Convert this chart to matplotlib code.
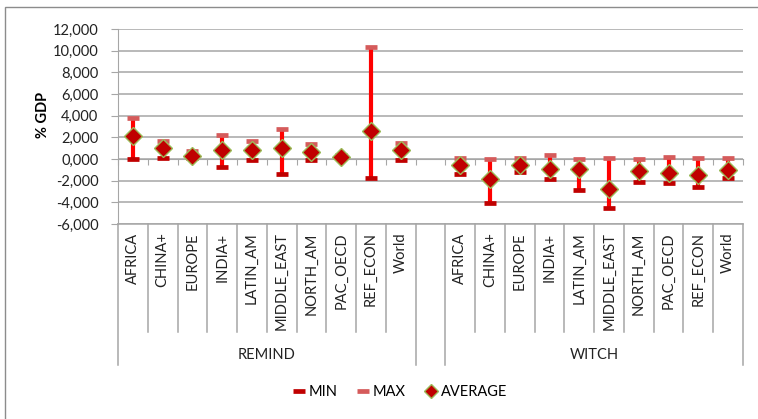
import matplotlib

matplotlib.use("Agg")
import matplotlib.pyplot as plt
import numpy as np
from matplotlib.lines import Line2D
from matplotlib.patches import Rectangle
from matplotlib.ticker import FuncFormatter

plt.rcParams["font.family"] = ["Lato", "DejaVu Sans"]

regions = ["AFRICA", "CHINA+", "EUROPE", "INDIA+", "LATIN_AM", "MIDDLE_EAST",
           "NORTH_AM", "PAC_OECD", "REF_ECON", "World"]
models = ["REMIND", "WITCH"]

# % GDP
remind_min = [0.0, 0.05, 0.05, -0.74, -0.12, -1.35, -0.12, 0.05, -1.78, -0.05]
remind_max = [3.75, 1.65, 0.7, 2.25, 1.65, 2.78, 1.38, 0.35, 10.32, 1.45]
remind_avg = [2.09, 1.05, 0.31, 0.8, 0.8, 1.05, 0.68, 0.18, 2.55, 0.86]

witch_min = [-1.35, -4.1, -1.16, -1.87, -2.85, -4.55, -2.1, -2.2, -2.6, -1.72]
witch_max = [0.1, 0.0, 0.05, 0.35, 0.0, 0.05, 0.0, 0.2, 0.05, 0.05]
witch_avg = [-0.58, -1.8, -0.58, -0.95, -0.95, -2.78, -1.08, -1.27, -1.5, -1.0]

RED = "#FF0000"
MIN_C = "#C00000"
MAX_C = "#D55B5B"
AVG_EDGE = "#9BBB59"
GRID = "#A6A6A6"

fig = plt.figure(figsize=(7.58, 4.19), dpi=100)
W, H = 758, 419
ax = fig.add_axes([118 / W, 1 - 224 / H, (743 - 118) / W, (224 - 29) / H])

n = len(regions)
x_remind = np.arange(n)
x_witch = np.arange(n) + n + 1
xs = np.concatenate([x_remind, x_witch])
mins = np.array(remind_min + witch_min)
maxs = np.array(remind_max + witch_max)
avgs = np.array(remind_avg + witch_avg)

ax.set_xlim(-0.5, 2 * n + 0.5)
ax.set_ylim(-6, 12)
ax.set_yticks(np.arange(-6, 12.1, 2))
ax.yaxis.set_major_formatter(FuncFormatter(lambda v, p: f"{v:.3f}".replace(".", ",")))
ax.grid(axis="y", color=GRID, lw=1.1)
ax.set_axisbelow(True)

for s in ["top", "right"]:
    ax.spines[s].set_visible(False)
ax.spines["left"].set_color(GRID)
ax.spines["bottom"].set_position(("data", 0))
ax.spines["bottom"].set_color(GRID)
ax.set_xticks(np.arange(-0.5, 2 * n + 1, 1))
ax.tick_params(axis="x", direction="out", length=4, color=GRID, labelbottom=False)
ax.tick_params(axis="y", length=5, color=GRID, pad=9, labelsize=10.5, labelcolor="#222222")

# high-low lines with min / max dashes and the average diamond
ax.vlines(xs, mins, maxs, color=RED, lw=3.0, zorder=3)
ax.plot(xs, mins, ls="none", marker="_", ms=9, mew=3.4, color=MIN_C, zorder=4)
ax.plot(xs, maxs, ls="none", marker="_", ms=9, mew=3.4, color=MAX_C, zorder=4)
ax.plot(xs, avgs, ls="none", marker="D", ms=9.5, mfc=MIN_C, mec=AVG_EDGE, mew=1, zorder=5)

# two-level category axis below the plot
tr = ax.get_xaxis_transform()
ax.plot([-0.5, 2 * n + 0.5], [0, 0], transform=tr, color=GRID, lw=1.1, clip_on=False)
for b in np.arange(-0.5, 2 * n + 1, 1):
    full = b in (-0.5, n - 0.5, n + 0.5, 2 * n + 0.5)
    y1 = -0.723 if full else -0.554
    ax.plot([b, b], [0, y1], transform=tr, color=GRID, lw=1.1, clip_on=False)
for x, r in zip(xs, regions + regions):
    ax.text(x, -0.043, r, transform=tr, rotation=90, ha="center", va="top",
            fontsize=10.5, color="#222222")
for x0, m in zip([x_remind, x_witch], models):
    ax.text(x0.mean(), -0.672, m, transform=tr, ha="center", va="center",
            fontsize=10.5, color="#222222")

fig.text(43 / W, 1 - 115 / H, "% GDP", rotation=90, ha="center", va="center",
         fontsize=10.5, fontweight="bold")

handles = [
    Line2D([], [], ls="none", marker="_", ms=9, mew=3.4, color=MIN_C),
    Line2D([], [], ls="none", marker="_", ms=9, mew=3.4, color=MAX_C),
    Line2D([], [], ls="none", marker="D", ms=7, mfc=MIN_C, mec=AVG_EDGE, mew=1),
]
fig.legend(handles, ["MIN", "MAX", "AVERAGE"], loc="center", ncol=3,
           bbox_to_anchor=(400 / W, 1 - 392 / H), frameon=False, fontsize=10.5,
           handlelength=0.8, handletextpad=0.3, columnspacing=1.3)

# chart area border
fig.patches.append(Rectangle((5 / W, -0.1), 1.2, 1.1 - 7 / H, transform=fig.transFigure,
                             fill=False, edgecolor="#8C8C8C", lw=1))

fig.savefig("out.png", dpi=100)
